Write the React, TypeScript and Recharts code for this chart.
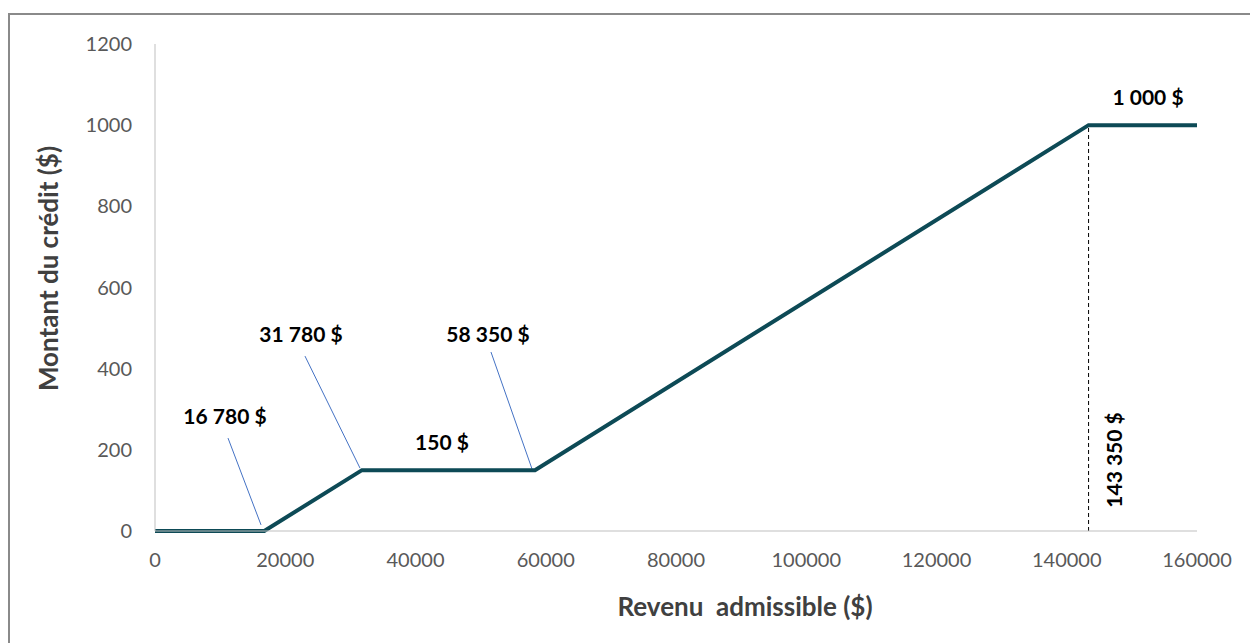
import React from 'react';
import {
  LineChart,
  Line,
  XAxis,
  YAxis,
  ReferenceLine,
  ReferenceDot,
} from 'recharts';

// barème du crédit : revenu admissible -> montant du crédit
const revenus = [0, 16780, 31780, 58350, 143350, 160000];
const credits = [0, 0, 150, 150, 1000, 1000];

const xTicks = [0, 20000, 40000, 60000, 80000, 100000, 120000, 140000, 160000];
const yTicks = [0, 200, 400, 600, 800, 1000, 1200];

// étiquettes : [texte, x, y]
const labels: [string, number, number][] = [
  ['16 780 $', 10750, 283],
  ['31 780 $', 22420, 483],
  ['58 350 $', 51130, 483],
  ['150 $', 44070, 217],
  ['1 000 $', 152480, 1069],
];

// traits de rappel : [x1, y1, x2, y2]
const leaders: [number, number, number, number][] = [
  [11210, 229, 16280, 15],
  [23030, 431, 31480, 155],
  [51590, 441, 57890, 153],
];

const data = revenus.map((x, i) => ({ x, y: credits[i] }));

const FONT = 'Lato, "Open Sans", sans-serif';

export default function App() {
  return (
    <div
      style={{
        position: 'absolute',
        left: 0,
        top: 0,
        width: 1250,
        height: 643,
        overflow: 'hidden',
        background: '#fff',
        fontFamily: FONT,
      }}
    >
      <div
        style={{
          position: 'absolute',
          left: 8,
          top: 13,
          width: 1240,
          height: 700,
          borderLeft: '2px solid #8a8a8a',
          borderTop: '2px solid #8a8a8a',
        }}
      />
      <LineChart
        width={1250}
        height={643}
        data={data}
        margin={{ top: 44, right: 53, left: 55, bottom: 22 }}
        style={{ position: 'absolute', left: 0, top: 0 }}
      >
        <XAxis
          dataKey='x'
          type='number'
          domain={[0, 160000]}
          ticks={xTicks}
          tickLine={false}
          stroke='#bfbfbf'
          tick={{ fill: '#595959', fontSize: 20, fontFamily: FONT }}
          tickMargin={16}
          height={90}
          label={{
            value: 'Revenu\u00a0 admissible ($)',
            position: 'insideBottom',
            offset: 5,
            dx: 69,
            fill: '#404040',
            fontSize: 26,
            fontWeight: 700,
            fontFamily: FONT,
          }}
        />
        <YAxis
          type='number'
          domain={[0, 1200]}
          ticks={yTicks}
          tickLine={false}
          stroke='#bfbfbf'
          tick={{ fill: '#595959', fontSize: 20, fontFamily: FONT }}
          tickMargin={17}
          width={100}
          label={{
            value: 'Montant du crédit ($)',
            angle: -90,
            position: 'insideLeft',
            offset: -6,
            dy: -19,
            style: { textAnchor: 'middle' },
            fill: '#404040',
            fontSize: 26,
            fontWeight: 700,
            fontFamily: FONT,
          }}
        />
        {leaders.map(([x1, y1, x2, y2], i) => (
          <ReferenceLine
            key={'l' + i}
            segment={[
              { x: x1, y: y1 },
              { x: x2, y: y2 },
            ]}
            stroke='#4472c4'
            strokeWidth={1}
            ifOverflow='visible'
          />
        ))}
        <ReferenceLine
          segment={[
            { x: 143350, y: 0 },
            { x: 143350, y: 1000 },
          ]}
          stroke='#000'
          strokeWidth={1}
          strokeDasharray='4 3'
        />
        <Line
          type='linear'
          dataKey='y'
          stroke='#0d4a56'
          strokeWidth={4}
          dot={false}
          isAnimationActive={false}
        />
        {labels.map(([t, x, y], i) => (
          <ReferenceDot
            key={'t' + i}
            x={x}
            y={y}
            r={0}
            fill='none'
            stroke='none'
            ifOverflow='visible'
            label={{
              value: t,
              position: 'center',
              fill: '#000',
              fontSize: 21,
              fontWeight: 700,
              fontFamily: FONT,
            }}
          />
        ))}
        <ReferenceDot
          x={147400}
          y={175}
          r={0}
          fill='none'
          stroke='none'
          label={{
            value: '143 350 $',
            position: 'center',
            angle: -90,
            fill: '#000',
            fontSize: 21,
            fontWeight: 700,
            fontFamily: FONT,
          }}
        />
      </LineChart>
    </div>
  );
}
